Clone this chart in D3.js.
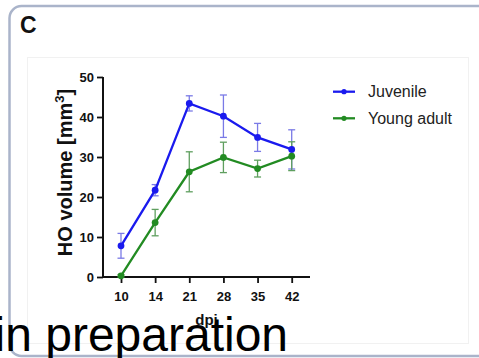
<!DOCTYPE html>
<html><head><meta charset="utf-8">
<script src="https://cdn.jsdelivr.net/npm/d3@7"></script>
<style>
html,body{margin:0;padding:0;background:#fff;overflow:hidden;}
svg{display:block;font-family:"Liberation Sans",Arial,sans-serif;}
</style></head>
<body>
<svg id="chart" width="479" height="358"></svg>
<script>
const days = ["10","14","21","28","35","42"];
const juvenileMean = [7.8, 21.7, 43.4, 40.2, 34.9, 31.9];
const juvenileErr  = [3.1, 1.4, 1.9, 5.3, 3.5, 4.9];
const youngMean    = [0.3, 13.6, 26.3, 29.9, 27.1, 30.2];
const youngErr     = [0.3, 3.3, 5.0, 3.8, 2.1, 3.6];
const yTicks = [0, 10, 20, 30, 40, 50];
const seriesNames = ["Juvenile", "Young adult"];
const seriesColors = ["#1a1aee", "#228b22"];
const errColors = ["#7a7ae6", "#5f9f5f"];

const series = [
  {name: seriesNames[0], mean: juvenileMean, err: juvenileErr, color: seriesColors[0], ecolor: errColors[0]},
  {name: seriesNames[1], mean: youngMean, err: youngErr, color: seriesColors[1], ecolor: errColors[1]}
];

const svg = d3.select("#chart");

// card
svg.append("rect").attr("x", 9.5).attr("y", 6).attr("width", 520).attr("height", 350)
  .attr("rx", 12).attr("fill", "#fff").attr("stroke", "#aab4ca").attr("stroke-width", 2.5);
// faint inner image frame
svg.append("rect").attr("x", 27.5).attr("y", 57.5).attr("width", 441).attr("height", 286)
  .attr("fill", "none").attr("stroke", "#f1f1f1").attr("stroke-width", 1);

svg.append("text").attr("x", 20).attr("y", 33).attr("font-size", 23).attr("font-weight", "bold")
  .attr("fill", "#111").text("C");

const x = d3.scalePoint().domain(days).range([121, 291.7]);
const y = d3.scaleLinear().domain([0, 50]).range([277, 77]);
const axisX0 = 103, axisX1 = 310;

const plot = svg.append("g");

// y axis
const ya = plot.append("g").attr("transform", `translate(${axisX0},0)`)
  .call(d3.axisLeft(y).tickValues(yTicks).tickSize(6).tickSizeOuter(0).tickPadding(3));
ya.select(".domain").attr("stroke", "#111").attr("stroke-width", 2).attr("d", `M0,${y(50)}V${y(0)+1}`);
ya.selectAll(".tick line").attr("stroke", "#111").attr("stroke-width", 1.8);
ya.selectAll(".tick text").attr("font-size", 13).attr("font-weight", "bold").attr("fill", "#111")
  .attr("font-family", "Liberation Sans, Arial, sans-serif");

// x axis
const xa = plot.append("g").attr("transform", `translate(0,${y(0)})`)
  .call(d3.axisBottom(x).tickSize(6).tickSizeOuter(0).tickPadding(9));
xa.select(".domain").attr("stroke", "#111").attr("stroke-width", 2).attr("d", `M${axisX0-1},0H${axisX1}`);
xa.selectAll(".tick line").attr("stroke", "#111").attr("stroke-width", 1.8);
xa.selectAll(".tick text").attr("font-size", 13).attr("font-weight", "bold").attr("fill", "#111")
  .attr("font-family", "Liberation Sans, Arial, sans-serif");

// axis titles
const yt = svg.append("text").attr("transform", `translate(71.5,172.5) rotate(-90)`)
  .attr("text-anchor", "middle").attr("font-size", 20).attr("font-weight", "bold").attr("fill", "#111");
yt.append("tspan").text("HO volume [mm");
yt.append("tspan").attr("font-size", 13).attr("dy", -8).text("3");
yt.append("tspan").attr("dy", 8).text("]");

svg.append("text").attr("x", 206.5).attr("y", 325).attr("text-anchor", "middle")
  .attr("font-size", 15).attr("font-weight", "bold").attr("fill", "#111").text("dpi");

// series
const line = d3.line().x((d, i) => x(days[i])).y(d => y(d));
series.forEach(s => {
  const g = plot.append("g");
  s.mean.forEach((m, i) => {
    const cx = x(days[i]);
    const top = y(m + s.err[i]), bot = y(Math.max(0, m - s.err[i]));
    g.append("line").attr("x1", cx).attr("x2", cx).attr("y1", top).attr("y2", bot)
      .attr("stroke", s.ecolor).attr("stroke-width", 1.3);
    [top, bot].forEach(yy => g.append("line").attr("x1", cx - 3.5).attr("x2", cx + 3.5)
      .attr("y1", yy).attr("y2", yy).attr("stroke", s.ecolor).attr("stroke-width", 1.3));
  });
});
series.forEach(s => {
  plot.append("path").datum(s.mean).attr("d", line).attr("fill", "none")
    .attr("stroke", s.color).attr("stroke-width", 2.3);
  plot.selectAll(null).data(s.mean).enter().append("circle")
    .attr("cx", (d, i) => x(days[i])).attr("cy", d => y(d)).attr("r", 3.4).attr("fill", s.color);
});

// legend
const lg = svg.append("g");
series.forEach((s, i) => {
  const ly = 91.7 + i * 26.6;
  lg.append("line").attr("x1", 333).attr("x2", 355).attr("y1", ly).attr("y2", ly)
    .attr("stroke", s.color).attr("stroke-width", 2.3);
  lg.append("circle").attr("cx", 344).attr("cy", ly).attr("r", 2.6).attr("fill", s.color);
  lg.append("text").attr("x", 368).attr("y", ly + 5.6).attr("font-size", 16).attr("fill", "#222")
    .text(s.name);
});

// overlay text
svg.append("text").attr("x", -5.5).attr("y", 351).attr("font-size", 48).attr("fill", "#000")
  .text("in preparation");
</script>
</body></html>
